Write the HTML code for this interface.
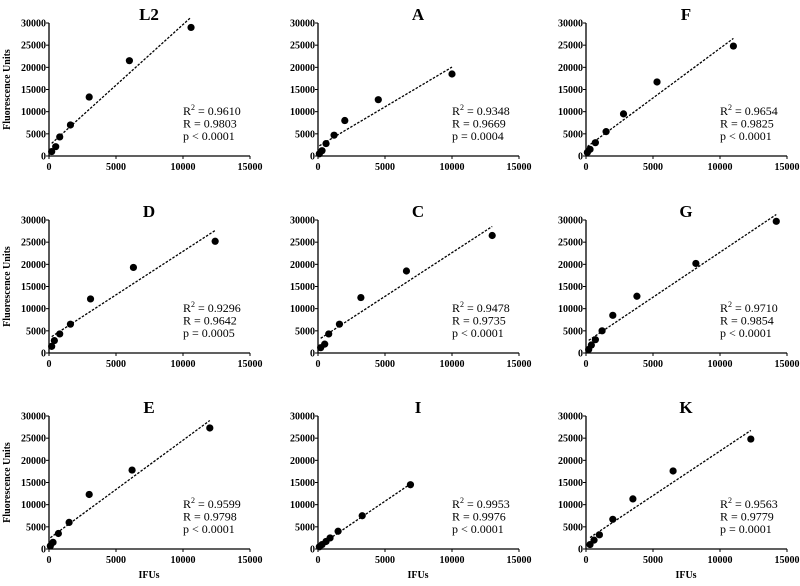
<!DOCTYPE html>
<html><head><meta charset="utf-8"><style>
body{margin:0;background:#fff}
svg text{font-family:"Liberation Serif",serif;fill:#000}
</style></head><body>
<svg id="c" width="800" height="581" viewBox="0 0 800 581"></svg>
<script>
const panelNames=["L2","A","F","D","C","G","E","I","K"];
const xL2=[200,500,800,1600,3000,6000,10600], yL2=[1000,2100,4300,7000,13300,21500,29000];
const xA=[100,300,600,1200,2000,4500,10000], yA=[500,1200,2800,4700,8000,12700,18500];
const xF=[100,300,700,1500,2800,5300,11000], yF=[800,1500,3000,5500,9500,16700,24800];
const xD=[200,400,800,1600,3100,6300,12400], yD=[1500,2800,4300,6500,12200,19300,25200];
const xC=[200,500,800,1600,3200,6600,13000], yC=[1200,2000,4300,6500,12500,18500,26500];
const xG=[200,400,700,1200,2000,3800,8200,14200], yG=[800,1800,3000,5000,8500,12800,20200,29700];
const xE=[100,300,700,1500,3000,6200,12000], yE=[700,1500,3500,6000,12300,17800,27300];
const xI=[100,300,600,900,1500,3300,6900], yI=[500,1000,1700,2500,4000,7500,14500];
const xK=[300,600,1000,2000,3500,6500,12300], yK=[1000,2000,3200,6700,11300,17600,24800];
const statsR2=["0.9610","0.9348","0.9654","0.9296","0.9478","0.9710","0.9599","0.9953","0.9563"];
const statsR=["0.9803","0.9669","0.9825","0.9642","0.9735","0.9854","0.9798","0.9976","0.9779"];
const statsP=["p < 0.0001","p = 0.0004","p < 0.0001","p = 0.0005","p < 0.0001","p < 0.0001","p < 0.0001","p < 0.0001","p = 0.0001"];
const xTicks=[0,5000,10000,15000], yTicks=[0,5000,10000,15000,20000,25000,30000];
const xsAll=[xL2,xA,xF,xD,xC,xG,xE,xI,xK], ysAll=[yL2,yA,yF,yD,yC,yG,yE,yI,yK];
const NS="http://www.w3.org/2000/svg", svg=document.getElementById('c');
function mk(t,a,p){const e=document.createElementNS(NS,t);for(const k in a)e.setAttribute(k,a[k]);(p||svg).appendChild(e);return e;}
const colX=[49,318,586], rowY=[156,353,549], W=201, H=133;
panelNames.forEach((nm,i)=>{
  const x0=colX[i%3], y0=rowY[Math.floor(i/3)];
  const sx=v=>x0+v/15000*W, sy=v=>y0-v/30000*H;
  const g=mk('g',{});
  
  
  const t=mk('text',{x:x0+100,y:y0-H-3,'text-anchor':'middle','font-size':17,'font-weight':'bold'},g);t.textContent=nm;
  
  mk('line',{x1:x0,y1:y0,x2:x0+W,y2:y0,stroke:'#000','stroke-width':1.3},g);
  mk('line',{x1:x0,y1:y0,x2:x0,y2:y0-H,stroke:'#000','stroke-width':1.3},g);
  xTicks.forEach(v=>{mk('line',{x1:sx(v),y1:y0,x2:sx(v),y2:y0+3,stroke:'#000'},g);
    const l=mk('text',{x:sx(v),y:y0+14,'text-anchor':'middle','font-size':10,'font-weight':'bold'},g);l.textContent=v;
    });
  yTicks.forEach(v=>{mk('line',{x1:x0-3,y1:sy(v),x2:x0,y2:sy(v),stroke:'#000'},g);
    const l=mk('text',{x:x0-3,y:sy(v)+3.5,'text-anchor':'end','font-size':10,'font-weight':'bold'},g);l.textContent=v;
    });
  const xs=xsAll[i], ys=ysAll[i], n=xs.length;
  const mx=xs.reduce((a,b)=>a+b)/n, my=ys.reduce((a,b)=>a+b)/n;
  let sxy=0,sxx=0;xs.forEach((v,k)=>{sxy+=(v-mx)*(ys[k]-my);sxx+=(v-mx)*(v-mx);});
  const b=sxy/sxx,a=my-b*mx;
  const xa=Math.min(...xs), xb=Math.max(...xs);
  const fl=mk('line',{x1:sx(xa),y1:sy(a+b*xa),x2:sx(xb),y2:sy(a+b*xb),stroke:'#000','stroke-width':1.3,'stroke-dasharray':'2.5,1.5'},g);
  
  xs.forEach((v,k)=>{const c=mk('circle',{cx:sx(v),cy:sy(ys[k]),r:3.6,fill:'#000'},g);
    });
  const tx=x0+134, ty=y0-41;
  const s1=mk('text',{x:tx,y:ty,'font-size':12},g);s1.innerHTML='R<tspan dy="-5" font-size="8">2</tspan><tspan dy="5"> = '+statsR2[i]+'</tspan>';
  
  const s2=mk('text',{x:tx,y:ty+12.5,'font-size':12},g);s2.textContent='R = '+statsR[i];
  
  const s3=mk('text',{x:tx,y:ty+25,'font-size':12},g);s3.textContent=statsP[i];
  
  if(i%3==0){const yl=mk('text',{x:0,y:0,'font-size':10,'font-weight':'bold','text-anchor':'middle',transform:`translate(10,${y0-H/2}) rotate(-90)`},g);
    yl.textContent='Fluorescence Units';}
  if(i>=6){const xl=mk('text',{x:x0+100,y:y0+29,'font-size':10,'font-weight':'bold','text-anchor':'middle'},g);
    xl.textContent='IFUs';}
});
</script>
</body></html>
